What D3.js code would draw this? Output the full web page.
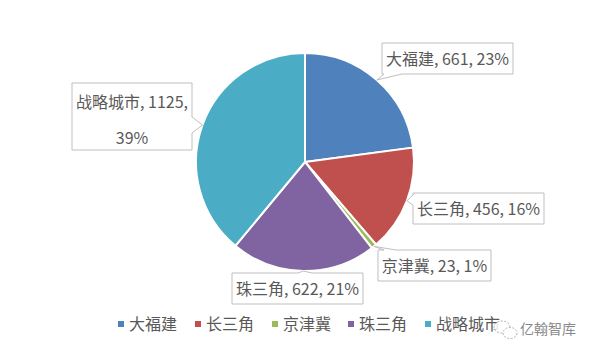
<!DOCTYPE html>
<html lang="zh">
<head>
  <meta charset="UTF-8">
  <title>区域分布</title>
  <script src="https://cdn.jsdelivr.net/npm/d3@7"></script>
  <style>
    body { margin: 0; background: #fff; }
    text { font-family: "Noto Sans CJK SC", "Noto Sans", sans-serif; }
  </style>
</head>
<body>
  <svg id="chart" width="595" height="356"></svg>
  <script>
    // data
    const categories = ['大福建', '长三角', '京津冀', '珠三角', '战略城市'];
    const values = [661, 456, 23, 622, 1125];
    const percents = ['23%', '16%', '1%', '21%', '39%'];
    const colors = ['#4F81BD', '#C0504D', '#9BBB59', '#8064A2', '#4BACC6'];

    const svg = d3.select('#chart');
    const cx = 305, cy = 162, r = 109;

    const pie = d3.pie().sort(null).value(d => d.v);
    const arcs = pie(categories.map((c, i) => ({ c: c, v: values[i], p: percents[i], col: colors[i] })));
    const arc = d3.arc().innerRadius(0).outerRadius(r);
    const edge = d3.arc().innerRadius(r).outerRadius(r);

    const g = svg.append('g').attr('transform', `translate(${cx},${cy})`);
    g.selectAll('path.slice')
      .data(arcs)
      .join('path')
      .attr('class', 'slice')
      .attr('d', arc)
      .attr('fill', d => d.data.col)
      .attr('stroke', '#fff')
      .attr('stroke-width', 2);

    // callout layout: box top-left, side of the wedge, base offsets along that side
    const callouts = [
      { x: 382, y: 43, side: 'bottom', b0: 2, b1: 20 },
      { x: 413, y: 193, side: 'left', b0: 2, b1: 12 },
      { x: 378, y: 250, side: 'top', b0: 6, b1: 18 },
      { x: 232, y: 273, side: 'top', b0: 66, b1: 80 },
      { x: 72, y: 83, side: 'right', b0: 34, b1: 50 }
    ];

    const labelG = svg.append('g');
    arcs.forEach((d, i) => {
      const co = callouts[i];
      const lines = i === 4
        ? [d.data.c + ', ' + d.data.v + ',', d.data.p]
        : [d.data.c + ', ' + d.data.v + ', ' + d.data.p];
      const lg = labelG.append('g');
      const path = lg.append('path');
      const txt = lg.append('text')
        .attr('font-size', 16)
        .attr('fill', '#595959')
        .attr('text-anchor', 'middle');
      lines.forEach(l => txt.append('tspan').text(l));
      let maxW = 0;
      txt.selectAll('tspan').each(function () { maxW = Math.max(maxW, this.getComputedTextLength()); });
      const bw = Math.round(maxW + 8);
      const lineH = 36;
      const bh = lines.length === 1 ? 31 : 67;
      txt.selectAll('tspan')
        .attr('x', co.x + bw / 2)
        .attr('y', (l, k) => co.y + (lines.length === 1 ? bh / 2 + 6 : 18.5 + 6 + k * lineH));

      const [tx, ty] = edge.centroid(d);
      const tip = [cx + tx, cy + ty];
      const x0 = co.x, y0 = co.y, x1 = co.x + bw, y1 = co.y + bh;
      let p;
      if (co.side === 'bottom') {
        p = `M${x0},${y0}H${x1}V${y1}H${x0 + co.b1}L${tip[0]},${tip[1]}L${x0 + co.b0},${y1}H${x0}Z`;
      } else if (co.side === 'top') {
        p = `M${x0},${y0}H${x0 + co.b0}L${tip[0]},${tip[1]}L${x0 + co.b1},${y0}H${x1}V${y1}H${x0}Z`;
      } else if (co.side === 'left') {
        p = `M${x0},${y0}H${x1}V${y1}H${x0}V${y0 + co.b1}L${tip[0]},${tip[1]}L${x0},${y0 + co.b0}Z`;
      } else {
        p = `M${x0},${y0}H${x1}V${y0 + co.b0}L${tip[0]},${tip[1]}L${x1},${y0 + co.b1}V${y1}H${x0}Z`;
      }
      path.attr('d', p)
        .attr('fill', '#fff')
        .attr('stroke', '#BFBFBF')
        .attr('stroke-width', 1);
    });

    // legend
    const legendX = [118, 195, 272, 348, 425];
    const leg = svg.append('g');
    categories.forEach((c, i) => {
      const li = leg.append('g').attr('transform', `translate(${legendX[i]},324)`);
      li.append('rect').attr('x', 0).attr('y', -3).attr('width', 6).attr('height', 6).attr('fill', colors[i]);
      li.append('text').attr('x', 11).attr('y', 6).attr('font-size', 16).attr('fill', '#595959').text(c);
    });

    // watermark
    const wm = svg.append('g').attr('transform', 'translate(505,330)');
    wm.append('ellipse').attr('cx', -3).attr('cy', -3).attr('rx', 8).attr('ry', 6)
      .attr('fill', 'rgba(255,255,255,0.85)').attr('stroke', '#b0b0b0').attr('stroke-width', 1).attr('stroke-dasharray', '2,1.5');
    wm.append('ellipse').attr('cx', 5).attr('cy', 3).attr('rx', 7).attr('ry', 5.5)
      .attr('fill', 'rgba(255,255,255,0.85)').attr('stroke', '#b0b0b0').attr('stroke-width', 1).attr('stroke-dasharray', '2,1.5');
    svg.append('text').attr('x', 520).attr('y', 334).attr('font-size', 14).attr('fill', '#8a8a8a').text('亿翰智库');
  </script>
</body>
</html>
